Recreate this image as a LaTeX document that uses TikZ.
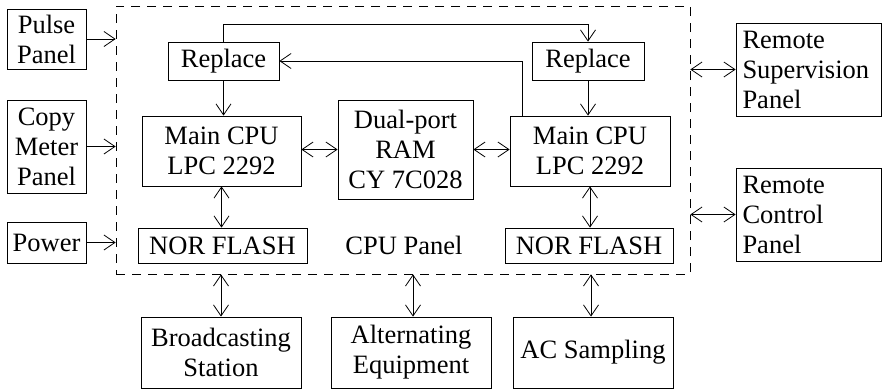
\documentclass[tikz,border=0pt]{standalone}
\usepackage{fontspec}
\setmainfont{Liberation Serif}
\usetikzlibrary{arrows.meta}
\begin{document}
\begin{tikzpicture}[x=1pt,y=-1pt,
  box/.style={draw, line width=0.8pt, inner sep=0pt, align=center,
    font=\fontsize{26.5}{30}\selectfont},
  panelbox/.style={draw, dashed, dash pattern=on 9pt off 7pt, line width=0.7pt, inner sep=0pt},
  lbl/.style={inner sep=0pt, font=\fontsize{26.5}{30}\selectfont},
  conn/.style={line width=0.8pt, -{Straight Barb[length=11pt,width=15pt]}},
  bconn/.style={line width=0.8pt, {Straight Barb[length=11pt,width=15pt]}-{Straight Barb[length=11pt,width=15pt]}}
]
\useasboundingbox (0,0) rectangle (882,389);
% dashed CPU panel
\node[panelbox, minimum width=574pt, minimum height=268pt] (panel) at (403,140) {};
\node[lbl] (cpulbl) at (404,245) {CPU Panel};
% left inputs
\node[box, minimum width=79pt, minimum height=60pt] (pulse) at (46.5,39) {Pulse\\Panel};
\node[box, minimum width=79pt, minimum height=93pt] (copy) at (46.5,146.5) {Copy\\Meter\\Panel};
\node[box, minimum width=79pt, minimum height=41pt] (power) at (46.5,242.5) {Power};
% inner blocks
\node[box, minimum width=111pt, minimum height=38pt] (repL) at (223.5,61) {Replace};
\node[box, minimum width=112pt, minimum height=38pt] (repR) at (588,61) {Replace};
\node[box, minimum width=159pt, minimum height=70pt] (cpuL) at (221.5,151) {Main CPU\\LPC 2292};
\node[box, minimum width=160pt, minimum height=70pt] (cpuR) at (590,151) {Main CPU\\LPC 2292};
\node[box, minimum width=135pt, minimum height=99pt] (ram) at (405.5,149.5) {Dual-port\\RAM\\CY 7C028};
\node[box, minimum width=169pt, minimum height=35pt] (norL) at (222.5,245.5) {NOR FLASH};
\node[box, minimum width=168pt, minimum height=35pt] (norR) at (589,245.5) {NOR FLASH};
% right
\node[box, align=left, text width=132pt, minimum width=145pt, minimum height=93pt] (rsup) at (808.5,69.5) {Remote\\Supervision\\Panel};
\node[box, align=left, text width=132pt, minimum width=145pt, minimum height=93pt] (rctl) at (808.5,214.5) {Remote\\Control\\Panel};
% bottom
\node[box, minimum width=160pt, minimum height=71pt] (bcast) at (221,352.5) {Broadcasting\\Station};
\node[box, minimum width=160pt, minimum height=71pt] (alt) at (411,352.5) {Alternating\\Equipment};
\node[box, minimum width=160pt, minimum height=71pt] (acs) at (593,352.5) {AC Sampling};
% connectors
\draw[conn] (pulse.east) -- (pulse.east -| panel.west);
\draw[conn] (copy.east) -- (copy.east -| panel.west);
\draw[conn] (power.east) -- (power.east -| panel.west);
\draw[bconn] (panel.east |- rsup.west) -- (rsup.west);
\draw[bconn] (panel.east |- rctl.west) -- (rctl.west);
\draw[conn] (repL.south) -- (repL.south |- cpuL.north);
\draw[conn] (repR.south) -- (repR.south |- cpuR.north);
\draw[conn] (repL.north) -- ++(0,-17) -| (repR.north);
\draw[conn] ([xshift=13pt]cpuR.north west) |- (repL.east);
\draw[bconn] (cpuL.east |- ram.west) -- (ram.west);
\draw[bconn] (ram.east) -- (ram.east -| cpuR.west);
\draw[bconn] (cpuL.south) -- (cpuL.south |- norL.north);
\draw[bconn] (cpuR.south) -- (cpuR.south |- norR.north);
\draw[bconn] (bcast.north |- panel.south) -- (bcast.north);
\draw[bconn] ([xshift=2pt]alt.north |- panel.south) -- ([xshift=2pt]alt.north);
\draw[bconn] ([xshift=-2pt]acs.north |- panel.south) -- ([xshift=-2pt]acs.north);
\end{tikzpicture}
\end{document}
